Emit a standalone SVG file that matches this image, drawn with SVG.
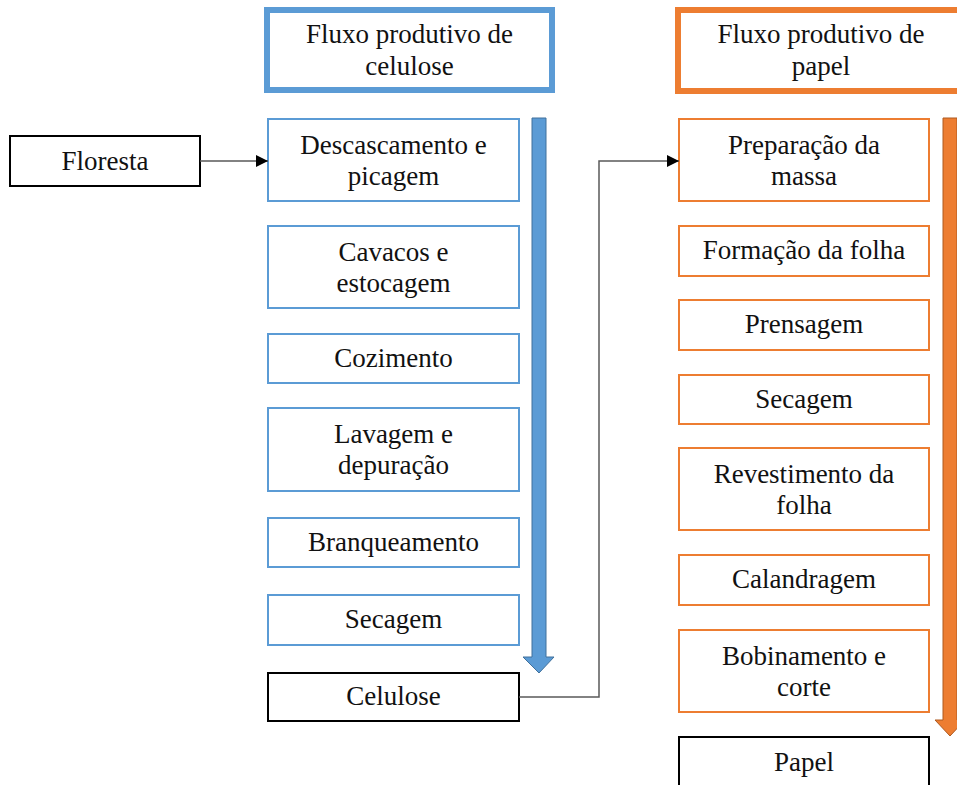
<svg xmlns="http://www.w3.org/2000/svg" width="957" height="785" viewBox="0 0 957 785">
<defs>
<marker id="ah" viewBox="0 0 10 10" refX="10" refY="5" markerWidth="12" markerHeight="12" markerUnits="userSpaceOnUse" orient="auto">
<path d="M0,0 L10,5 L0,10 Z" fill="#000"/>
</marker>
</defs>
<style>
text{font-family:"Liberation Serif","Times New Roman",serif;font-size:27px;fill:#111;text-anchor:middle}
.b{fill:#fff;stroke:#5B9BD5;stroke-width:2}
.o{fill:#fff;stroke:#ED7D31;stroke-width:2}
.k{fill:#fff;stroke:#000;stroke-width:2}
.hb{fill:#fff;stroke:#5B9BD5;stroke-width:6}
.ho{fill:#fff;stroke:#ED7D31;stroke-width:6}
.c{fill:none;stroke:#595959;stroke-width:1.5}
</style>
<rect width="957" height="785" fill="#fff"/>

<g id="header-celulose"><rect class="hb" x="267" y="10" width="285" height="80"/><text x="409.5" y="43">Fluxo produtivo de</text><text x="409.5" y="75">celulose</text></g>
<g id="header-papel"><rect class="ho" x="678" y="10" width="285" height="81"/><text x="821" y="43">Fluxo produtivo de</text><text x="821" y="75">papel</text></g>

<g id="arrow-blue"><path d="M532,118 L546,118 L546,657 L554,657 L539,673 L523,657 L532,657 Z" fill="#5B9BD5" stroke="#41719C" stroke-width="1"/></g>
<g id="arrow-orange"><path d="M943,118 L957,118 L957,720 L965,720 L950,736 L935,720 L943,720 Z" fill="#ED7D31" stroke="#AE5A21" stroke-width="1"/></g>

<g id="floresta"><rect class="k" x="10" y="136" width="190" height="50"/><text x="105" y="170">Floresta</text></g>

<g id="descascamento"><rect class="b" x="268" y="119" width="251" height="82"/><text x="393.5" y="154">Descascamento e</text><text x="393.5" y="185">picagem</text></g>
<g id="cavacos"><rect class="b" x="268" y="226" width="251" height="82"/><text x="393.5" y="261">Cavacos e</text><text x="393.5" y="292">estocagem</text></g>
<g id="cozimento"><rect class="b" x="268" y="334" width="251" height="49"/><text x="393.5" y="367">Cozimento</text></g>
<g id="lavagem"><rect class="b" x="268" y="408" width="251" height="83"/><text x="393.5" y="443">Lavagem e</text><text x="393.5" y="474">depuração</text></g>
<g id="branqueamento"><rect class="b" x="268" y="518" width="251" height="49"/><text x="393.5" y="551">Branqueamento</text></g>
<g id="secagem-c"><rect class="b" x="268" y="595" width="251" height="50"/><text x="393.5" y="628">Secagem</text></g>
<g id="celulose"><rect class="k" x="268" y="673" width="251" height="48"/><text x="393.5" y="705">Celulose</text></g>

<g id="preparacao"><rect class="o" x="679" y="119" width="250" height="82"/><text x="804" y="154">Preparação da</text><text x="804" y="185">massa</text></g>
<g id="formacao"><rect class="o" x="679" y="226" width="250" height="50"/><text x="804" y="259">Formação da folha</text></g>
<g id="prensagem"><rect class="o" x="679" y="300" width="250" height="50"/><text x="804" y="333">Prensagem</text></g>
<g id="secagem-p"><rect class="o" x="679" y="375" width="250" height="49"/><text x="804" y="408">Secagem</text></g>
<g id="revestimento"><rect class="o" x="679" y="448" width="250" height="82"/><text x="804" y="483">Revestimento da</text><text x="804" y="514">folha</text></g>
<g id="calandragem"><rect class="o" x="679" y="555" width="250" height="50"/><text x="804" y="588">Calandragem</text></g>
<g id="bobinamento"><rect class="o" x="679" y="630" width="250" height="82"/><text x="804" y="665">Bobinamento e</text><text x="804" y="696">corte</text></g>
<g id="papel"><rect class="k" x="679" y="737" width="250" height="60"/><text x="804" y="771">Papel</text></g>

<g id="connectors">
<path class="c" d="M200,161 L268,161" marker-end="url(#ah)"/>
<path class="c" d="M519,697 L599,697 L599,161 L679,161" marker-end="url(#ah)"/>
</g>
</svg>
